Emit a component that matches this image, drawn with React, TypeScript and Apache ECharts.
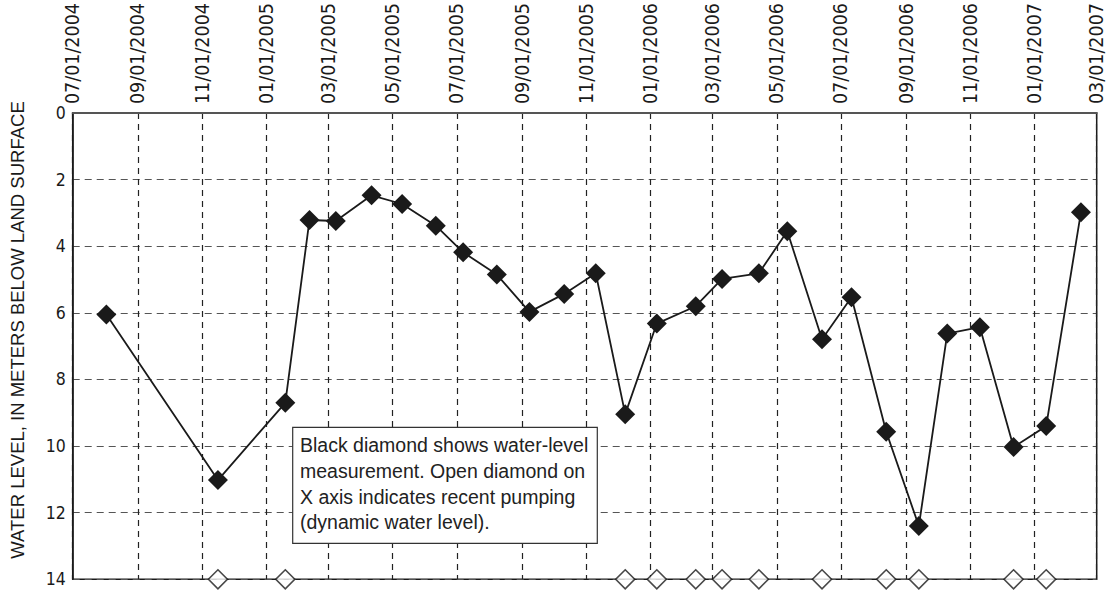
import React, { useEffect, useRef } from "react";
import * as echarts from "echarts";

// Tick dates (top axis), every two months
const tickDates = [
  "2004-07-01", "2004-09-01", "2004-11-01", "2005-01-01", "2005-03-01",
  "2005-05-01", "2005-07-01", "2005-09-01", "2005-11-01", "2006-01-01",
  "2006-03-01", "2006-05-01", "2006-07-01", "2006-09-01", "2006-11-01",
  "2007-01-01", "2007-03-01",
];

// Measurement dates
const dates = [
  "2004-08-02", "2004-11-16", "2005-01-19", "2005-02-11", "2005-03-08",
  "2005-04-11", "2005-05-10", "2005-06-11", "2005-07-07", "2005-08-08",
  "2005-09-08", "2005-10-11", "2005-11-10", "2005-12-08", "2006-01-07",
  "2006-02-13", "2006-03-10", "2006-04-14", "2006-05-11", "2006-06-13",
  "2006-07-11", "2006-08-13", "2006-09-13", "2006-10-10", "2006-11-10",
  "2006-12-12", "2007-01-12", "2007-02-14",
];

// Water level, meters below land surface
const levels = [
  6.05, 11.02, 8.70, 3.21, 3.24,
  2.47, 2.73, 3.38, 4.18, 4.85,
  5.97, 5.43, 4.81, 9.04, 6.32,
  5.80, 4.98, 4.81, 3.55, 6.79,
  5.53, 9.57, 12.40, 6.62, 6.43,
  10.03, 9.40, 2.98,
];

// Recent pumping (dynamic water level) flag per measurement
const pumped = [
  false, true, true, false, false,
  false, false, false, false, false,
  false, false, false, true, true,
  true, true, true, false, true,
  false, true, true, false, false,
  true, true, false,
];

const yTicks = [0, 2, 4, 6, 8, 10, 12, 14];

const noteLines = [
  "Black diamond shows water-level",
  "measurement. Open diamond on",
  "X axis indicates recent pumping",
  "(dynamic water level).",
];

const yAxisTitle = "WATER LEVEL, IN METERS BELOW LAND SURFACE";

function parseLocal(s: string): number {
  const [y, m, d] = s.split("-").map(Number);
  return new Date(y, m - 1, d).getTime();
}

function fmt(v: number): string {
  const d = new Date(v);
  const mm = String(d.getMonth() + 1).padStart(2, "0");
  const dd = String(d.getDate()).padStart(2, "0");
  return `${mm}/${dd}/${d.getFullYear()}`;
}

export default function App() {
  const ref = useRef<HTMLDivElement>(null);

  useEffect(() => {
    if (!ref.current) return;
    const chart = echarts.init(ref.current, undefined, { renderer: "svg" });
    const ticks = tickDates.map(parseLocal);
    const measured = dates.map((d, i) => [parseLocal(d), levels[i]]);
    const pumpPts = dates
      .map((d, i) => (pumped[i] ? [parseLocal(d), yTicks[yTicks.length - 1]] : null))
      .filter((p) => p !== null);

    const numFont = "'Liberation Sans Narrow', 'DejaVu Sans Condensed', 'Liberation Sans', sans-serif";
    const textFont = "'Liberation Sans', Arial, sans-serif";

    chart.setOption({
      animation: false,
      backgroundColor: "#ffffff",
      grid: {
        left: 72.7,
        top: 96.7,
        right: 12.3,
        bottom: 10.7,
        show: true,
        borderColor: "#1a1a1a",
        borderWidth: 1.5,
        containLabel: false,
      },
      xAxis: {
        type: "value",
        position: "top",
        min: ticks[0],
        max: ticks[ticks.length - 1],
        axisLine: { show: true, lineStyle: { color: "#555", width: 2 } },
        axisTick: { show: false, customValues: ticks },
        axisLabel: {
          customValues: ticks,
          rotate: 90,
          margin: 9,
          color: "#1a1a1a",
          fontFamily: numFont,
          fontSize: 19.5,
          hideOverlap: false,
          showMinLabel: true,
          showMaxLabel: true,
          formatter: (v: number) => fmt(v),
        },
        splitLine: {
          show: true,
          lineStyle: { color: "#222", type: [6, 5], width: 1.2 },
        },
      },
      yAxis: {
        type: "value",
        inverse: true,
        min: yTicks[0],
        max: yTicks[yTicks.length - 1],
        interval: 2,
        axisLine: { show: true, lineStyle: { color: "#1a1a1a", width: 1.5 } },
        axisTick: { show: false },
        axisLabel: {
          color: "#1a1a1a",
          fontFamily: numFont,
          fontSize: 17.5,
          margin: 7,
        },
        splitLine: {
          show: true,
          lineStyle: { color: "#555", type: [7, 5], width: 1.2 },
        },
      },
      series: [
        {
          type: "line",
          data: measured,
          symbol: "diamond",
          symbolSize: 20,
          itemStyle: { color: "#1a1a1a" },
          lineStyle: { color: "#1a1a1a", width: 1.8 },
          z: 5,
        },
        {
          type: "scatter",
          data: pumpPts,
          symbol: "diamond",
          symbolSize: 19,
          clip: false,
          itemStyle: { color: "#ffffff", borderColor: "#1a1a1a", borderWidth: 1.6 },
          z: 6,
        },
      ],
      graphic: [
        {
          type: "text",
          x: 17,
          y: 330,
          rotation: Math.PI / 2,
          z: 100,
          style: {
            text: yAxisTitle,
            font: `18.5px ${textFont}`,
            fill: "#1a1a1a",
            align: "center",
            verticalAlign: "middle",
          },
        },
        {
          type: "rect",
          x: 292.7,
          y: 427.3,
          z: 100,
          shape: { x: 0, y: 0, width: 304.6, height: 116 },
          style: { fill: "#ffffff", stroke: "#333", lineWidth: 1.2 },
        },
        {
          type: "text",
          x: 300,
          y: 432,
          z: 101,
          style: {
            text: noteLines.join("\n"),
            font: `19.5px ${textFont}`,
            fill: "#222",
            lineHeight: 25.8,
          },
        },
      ],
    });
    return () => chart.dispose();
  }, []);

  return (
    <div
      ref={ref}
      style={{ position: "absolute", left: 0, top: 0, width: 1109, height: 590 }}
    />
  );
}
